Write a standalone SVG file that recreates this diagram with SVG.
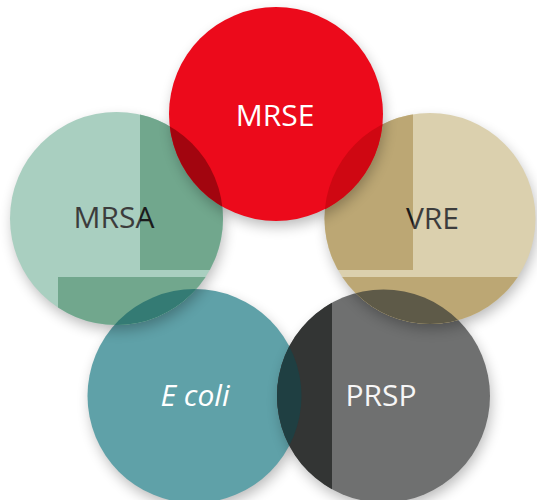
<svg xmlns="http://www.w3.org/2000/svg" width="537" height="500" viewBox="0 0 537 500">
  <defs>
    <style>
      .lbl { font-family: "Open Sans", "Noto Sans", "Liberation Sans", sans-serif; font-size: 30px; text-anchor: middle; }
      .w { fill: #ffffff; }
      .sh { fill: #000000; opacity: 0.28; }
    </style>
    <filter id="blur" x="-30%" y="-30%" width="160%" height="160%">
      <feGaussianBlur stdDeviation="7"/>
    </filter>
    <clipPath id="rA"><rect x="140" y="0" width="273" height="270"/></clipPath>
    <clipPath id="rB"><rect x="58" y="277" width="274" height="223"/></clipPath>
    <clipPath id="rC"><rect x="332" y="277" width="189" height="223"/></clipPath>
    <clipPath id="rAC"><rect x="140" y="0" width="273" height="270"/><rect x="332" y="277" width="189" height="223"/></clipPath>
    <clipPath id="rAB"><rect x="140" y="0" width="273" height="270"/><rect x="58" y="277" width="274" height="223"/></clipPath>
    <clipPath id="cMRSA"><circle cx="116.5" cy="218.5" r="106.5"/></clipPath>
    <clipPath id="cVRE"><circle cx="430" cy="218.5" r="105.5"/></clipPath>
    <clipPath id="cECOLI"><circle cx="194.5" cy="396" r="107"/></clipPath>
    <clipPath id="cPRSP"><circle cx="383.5" cy="396" r="106.5"/></clipPath>
    <linearGradient id="gMRSA" gradientUnits="userSpaceOnUse" x1="0" y1="0" x2="537" y2="0">
      <stop offset="0" stop-color="#3c3c3c"/>
      <stop offset="0.2607" stop-color="#3c3c3c"/>
      <stop offset="0.2607" stop-color="#1b1b1b"/>
      <stop offset="1" stop-color="#1b1b1b"/>
    </linearGradient>
    <linearGradient id="gVRE" gradientUnits="userSpaceOnUse" x1="0" y1="0" x2="537" y2="0">
      <stop offset="0" stop-color="#1b1b1b"/>
      <stop offset="0.769" stop-color="#1b1b1b"/>
      <stop offset="0.769" stop-color="#3c3c3c"/>
      <stop offset="1" stop-color="#3c3c3c"/>
    </linearGradient>
  </defs>

  <rect x="0" y="0" width="537" height="500" fill="#ffffff"/>

  <g id="connectors"/>

  <g id="node-ecoli">
    <circle class="sh" cx="196.5" cy="402" r="106" filter="url(#blur)"/>
    <circle cx="194.5" cy="396" r="107" fill="#5fa1a8"/>
    <text class="lbl w" x="195" y="406" font-style="italic">E coli</text>
  </g>

  <g id="node-prsp">
    <circle class="sh" cx="385.5" cy="402" r="105.5" filter="url(#blur)"/>
    <circle cx="383.5" cy="396" r="106.5" fill="#6f7070"/>
    <g clip-path="url(#rB)"><circle cx="383.5" cy="396" r="106.5" fill="#333534"/></g>
    <g clip-path="url(#cECOLI)"><circle cx="383.5" cy="396" r="106.5" fill="#1f3f42"/></g>
    <text class="lbl" x="381" y="406" fill="#f6f6f6">PRSP</text>
  </g>

  <g id="node-mrsa">
    <circle class="sh" cx="118.5" cy="224.5" r="105.5" filter="url(#blur)"/>
    <circle cx="116.5" cy="218.5" r="106.5" fill="#a9cfc0"/>
    <g clip-path="url(#rAB)"><circle cx="116.5" cy="218.5" r="106.5" fill="#71a78d"/></g>
    <g clip-path="url(#cECOLI)"><circle cx="116.5" cy="218.5" r="106.5" fill="#347b74"/></g>
    <text class="lbl" x="114" y="228" fill="url(#gMRSA)">MRSA</text>
  </g>

  <g id="node-vre">
    <circle class="sh" cx="432" cy="224.5" r="104.5" filter="url(#blur)"/>
    <circle cx="430" cy="218.5" r="105.5" fill="#dbd0ae"/>
    <g clip-path="url(#rAC)"><circle cx="430" cy="218.5" r="105.5" fill="#bca774"/></g>
    <g clip-path="url(#cPRSP)"><circle cx="430" cy="218.5" r="105.5" fill="#5e5a48"/></g>
    <text class="lbl" x="432.5" y="229" fill="url(#gVRE)">VRE</text>
  </g>

  <g id="node-mrse">
    <circle class="sh" cx="278" cy="120" r="106" filter="url(#blur)"/>
    <circle cx="276" cy="114" r="107" fill="#ec0a1b"/>
    <g clip-path="url(#cMRSA)"><circle cx="276" cy="114" r="107" fill="#a2050f"/></g>
    <g clip-path="url(#cVRE)"><circle cx="276" cy="114" r="107" fill="#cf0712"/></g>
    <text class="lbl w" x="275" y="126">MRSE</text>
  </g>
</svg>
